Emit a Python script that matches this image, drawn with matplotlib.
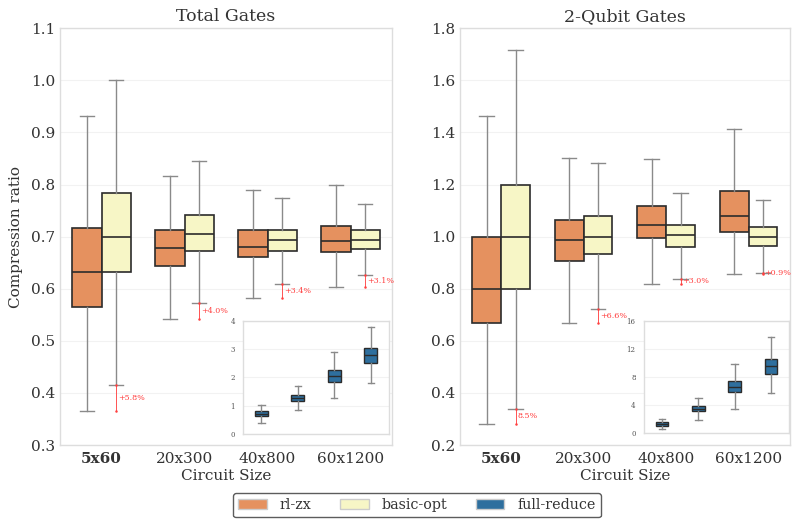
import matplotlib
matplotlib.use("Agg")
from matplotlib import pyplot as plt
from matplotlib.patches import Patch

plt.rcParams["font.family"] = ["DejaVu Serif"]
plt.rcParams["text.color"] = "#333333"
plt.rcParams["axes.labelcolor"] = "#333333"
plt.rcParams["xtick.color"] = "#333333"
plt.rcParams["ytick.color"] = "#333333"

sizes = ["5x60", "20x300", "40x800", "60x1200"]

# total gates: whisker low, q1, median, q3, whisker high
total_rl_lo = [0.365, 0.542, 0.583, 0.604]
total_rl_q1 = [0.565, 0.643, 0.660, 0.670]
total_rl_med = [0.632, 0.679, 0.680, 0.692]
total_rl_q3 = [0.716, 0.712, 0.712, 0.721]
total_rl_hi = [0.932, 0.816, 0.790, 0.800]

total_basic_lo = [0.415, 0.572, 0.609, 0.627]
total_basic_q1 = [0.632, 0.672, 0.672, 0.677]
total_basic_med = [0.700, 0.706, 0.694, 0.693]
total_basic_q3 = [0.783, 0.742, 0.713, 0.712]
total_basic_hi = [1.000, 0.846, 0.775, 0.762]
total_gain = ["+5.8%", "+4.0%", "+3.4%", "+3.1%"]

# 2-qubit gates
twoq_rl_lo = [0.28, 0.67, 0.82, 0.858]
twoq_rl_q1 = [0.67, 0.907, 0.995, 1.018]
twoq_rl_med = [0.80, 0.986, 1.046, 1.078]
twoq_rl_q3 = [1.00, 1.065, 1.118, 1.176]
twoq_rl_hi = [1.462, 1.302, 1.300, 1.412]

twoq_basic_lo = [0.34, 0.724, 0.836, 0.862]
twoq_basic_q1 = [0.80, 0.932, 0.959, 0.966]
twoq_basic_med = [1.00, 1.000, 1.006, 0.998]
twoq_basic_q3 = [1.20, 1.078, 1.045, 1.037]
twoq_basic_hi = [1.716, 1.284, 1.169, 1.141]
twoq_gain = ["8.5%", "+6.6%", "+3.0%", "+0.9%"]

# full-reduce (insets)
full_total_lo = [0.38, 0.85, 1.27, 1.80]
full_total_q1 = [0.62, 1.15, 1.85, 2.50]
full_total_med = [0.72, 1.26, 2.05, 2.79]
full_total_q3 = [0.81, 1.37, 2.25, 3.03]
full_total_hi = [1.03, 1.69, 2.88, 3.77]

full_twoq_lo = [0.57, 1.86, 3.44, 5.73]
full_twoq_q1 = [1.00, 3.05, 5.82, 8.46]
full_twoq_med = [1.24, 3.44, 6.59, 9.55]
full_twoq_q3 = [1.48, 3.87, 7.45, 10.61]
full_twoq_hi = [2.00, 5.00, 9.79, 13.76]

rl_color = "#e5915f"
basic_color = "#f7f6c6"
full_color = "#2e6f9e"
gain_color = "#ff4040"


def make_stats(lo, q1, med, q3, hi):
    return [dict(whislo=a, q1=b, med=c, q3=d, whishi=e, fliers=[])
            for a, b, c, d, e in zip(lo, q1, med, q3, hi)]


def draw_boxes(ax, stats, positions, width, color, lw=1.2):
    ax.bxp(
        stats, positions=positions, widths=width, patch_artist=True,
        showfliers=False, manage_ticks=False,
        boxprops=dict(facecolor=color, edgecolor="#2b2b2b", linewidth=lw),
        medianprops=dict(color="#2b2b2b", linewidth=lw),
        whiskerprops=dict(color="#8a8a8a", linewidth=1.0),
        capprops=dict(color="#8a8a8a", linewidth=1.0),
    )


def style_axes(ax):
    ax.set_facecolor("white")
    ax.grid(axis="y", color="#f2f2f2", linewidth=0.8)
    ax.set_axisbelow(True)
    for s in ax.spines.values():
        s.set_color("#dddddd")
        s.set_linewidth(1.0)
    ax.tick_params(length=0)


def panel(ax, rl, basic, gains, title, ylim, yticks, inset_rect, full, inset_ylim, inset_ticks):
    style_axes(ax)
    pos = list(range(len(sizes)))
    w = 0.35
    draw_boxes(ax, make_stats(*rl), [p - 0.175 for p in pos], w, rl_color)
    draw_boxes(ax, make_stats(*basic), [p + 0.175 for p in pos], w, basic_color)

    # red marker from basic-opt lower whisker to rl-zx lower whisker
    for p, a, b, g in zip(pos, basic[0], rl[0], gains):
        x = p + 0.175
        ax.plot([x, x], [a, b], color=gain_color, linewidth=0.7, alpha=0.9)
        ax.plot([x, x], [a, b], "o", color=gain_color, markersize=0.8)
        ax.text(x + 0.02, (a + b) / 2, g, color=gain_color, fontsize=5.8,
                va="center", ha="left")

    ax.set_xlim(-0.5, len(sizes) - 0.5)
    ax.set_ylim(*ylim)
    ax.set_yticks(yticks)
    ax.set_yticklabels([f"{t:.1f}" for t in yticks], fontsize=11)
    ax.set_xticks(pos)
    ax.set_xticklabels(sizes, fontsize=11)
    ax.get_xticklabels()[0].set_fontweight("bold")
    ax.tick_params(axis="x", pad=5)
    ax.set_xlabel("Circuit Size", fontsize=11, labelpad=2)
    ax.set_title(title, fontsize=12.5, pad=5)

    ins = ax.figure.add_axes(inset_rect)
    style_axes(ins)
    draw_boxes(ins, make_stats(*full), pos, 0.35, full_color, lw=1.0)
    ins.set_xlim(-0.5, len(sizes) - 0.5)
    ins.set_ylim(*inset_ylim)
    ins.set_yticks(inset_ticks)
    ins.set_yticklabels([str(t) for t in inset_ticks], fontsize=5, color="#555555")
    ins.set_xticks([])
    ins.tick_params(axis="y", pad=6)


fig = plt.figure(figsize=(7.97, 5.23), dpi=100)
ax1 = fig.add_axes([0.0753, 0.149, 0.4166, 0.797])
ax2 = fig.add_axes([0.577, 0.149, 0.414, 0.797])

panel(ax1,
      (total_rl_lo, total_rl_q1, total_rl_med, total_rl_q3, total_rl_hi),
      (total_basic_lo, total_basic_q1, total_basic_med, total_basic_q3, total_basic_hi),
      total_gain, "Total Gates", (0.3, 1.1),
      [0.3, 0.4, 0.5, 0.6, 0.7, 0.8, 0.9, 1.0, 1.1],
      [0.305, 0.170, 0.183, 0.217],
      (full_total_lo, full_total_q1, full_total_med, full_total_q3, full_total_hi),
      (0, 4), [0, 1, 2, 3, 4])
ax1.set_ylabel("Compression ratio", fontsize=11, labelpad=6)

panel(ax2,
      (twoq_rl_lo, twoq_rl_q1, twoq_rl_med, twoq_rl_q3, twoq_rl_hi),
      (twoq_basic_lo, twoq_basic_q1, twoq_basic_med, twoq_basic_q3, twoq_basic_hi),
      twoq_gain, "2-Qubit Gates", (0.2, 1.8),
      [0.2, 0.4, 0.6, 0.8, 1.0, 1.2, 1.4, 1.6, 1.8],
      [0.808, 0.173, 0.182, 0.213],
      (full_twoq_lo, full_twoq_q1, full_twoq_med, full_twoq_q3, full_twoq_hi),
      (0, 16), [0, 4, 8, 12, 16])

handles = [
    Patch(facecolor=rl_color, edgecolor="#cccccc", label="rl-zx"),
    Patch(facecolor=basic_color, edgecolor="#cccccc", label="basic-opt"),
    Patch(facecolor=full_color, edgecolor="#cccccc", label="full-reduce"),
]
leg = fig.legend(handles=handles, loc="lower center", ncol=3, fontsize=10.3,
                 bbox_to_anchor=(0.523, -0.003), frameon=True, fancybox=True,
                 handlelength=2.0, handletextpad=0.9, columnspacing=2.0,
                 borderpad=0.35)
leg.get_frame().set_edgecolor("#333333")
leg.get_frame().set_linewidth(1.0)

fig.savefig("out.png", dpi=100)
